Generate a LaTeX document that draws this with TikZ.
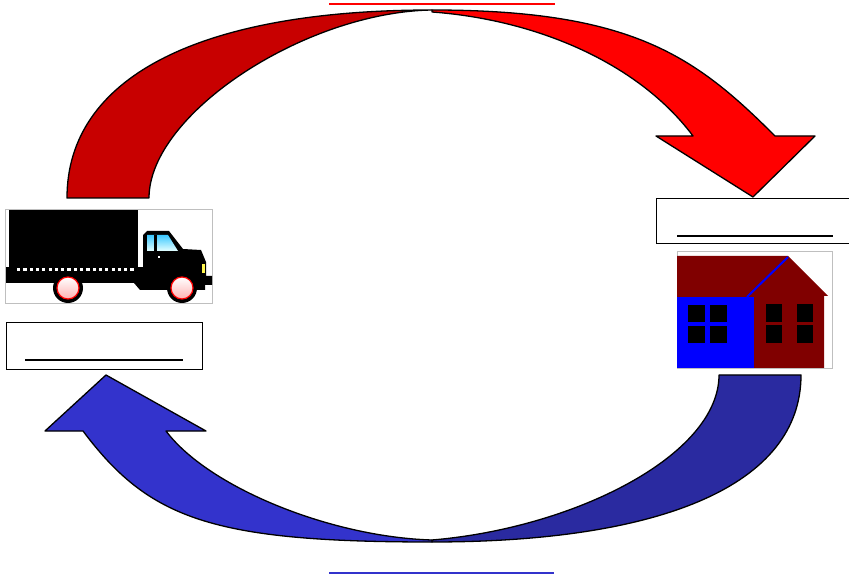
\documentclass[tikz,border=0pt]{standalone}
\usepackage{tikz}
\usetikzlibrary{calc}
\definecolor{DarkArrow}{RGB}{200,0,0}
\definecolor{ArrowBlue}{RGB}{51,51,204}
\definecolor{DeepBlue}{RGB}{42,42,160}
\definecolor{Brick}{RGB}{128,0,0}
\definecolor{Glass}{RGB}{60,200,255}

\begin{document}
\begin{tikzpicture}[x=1pt, y=-1pt,
		outline/.style={draw=black, line width=1.3pt, line join=round},
		labelbox/.style={draw=black, line width=1.2pt, fill=white, inner sep=0pt,
			minimum width=196pt, minimum height=47pt, anchor=north west},
		blank/.style={line width=2.4pt},
		frame/.style={draw=black!25, line width=0.8pt, fill=white}]
		\clip (0,0) rectangle (849,577);
		\fill[white] (0,0) rectangle (849,577);
		% upper arrow
		\draw[outline, fill=DarkArrow] (67,198) .. controls (67,78) and (198,10) .. (432,10)
			.. controls (305,12) and (149,114) .. (149,198) -- cycle;
		\draw[outline, fill=red] (432,10) .. controls (632,10) and (695,56) .. (775,136)
			-- (815,136) -- (753,197) -- (656,136) -- (693,136)
			.. controls (640,65) and (540,20) .. (432,12) -- cycle;
		% lower arrow
		\draw[outline, fill=DeepBlue] (801,375) .. controls (801,485) and (662,542) .. (432,542)
			-- (432,540) .. controls (575,528) and (719,455) .. (719,375) -- cycle;
		\draw[outline, fill=ArrowBlue] (432,542) .. controls (212,542) and (149,519) .. (83,431)
			-- (45,431) -- (106,375) -- (206,431) -- (166,431)
			.. controls (208,487) and (330,537) .. (432,540) -- cycle;
		\draw[red, line width=2pt] (329,4) -- (555,4);
		\draw[ArrowBlue, line width=2.5pt] (329,573) -- (554,573);
		% truck
		\draw[frame] (5,209) rectangle (212,303);
		\fill (9,210) rectangle (138,267);
		\fill (6,267) rectangle (145,272);
		\foreach \i in {0,...,18}
			\fill[white] ({17+\i*6.3},268.3) rectangle ++(3.2,3);
		\fill (6,272) -- (6,283) -- (134,283) -- (140,290) -- (205,290) -- (205,285)
			-- (212,285) -- (212,276) -- (206,276) -- (206,262) -- (201,250) -- (183,249)
			-- (169,231) -- (147,231) -- (143,235) -- (143,272) -- cycle;
		\shade[top color=Glass, bottom color=cyan!10] (147,235) -- (168,235) -- (178,251) -- (147,251) -- cycle;
		\fill (154,235) rectangle (157,251);
		\fill[white] (157.5,256.5) rectangle ++(2,2);
		\fill[yellow!70] (202,264) rectangle (204.5,273);
		\foreach \wx in {68,182} {
			\fill (\wx,288) circle (15pt);
			\shade[top color=white, bottom color=red!30] (\wx,288) circle (11pt);
			\draw[red, line width=1.2pt] (\wx,288) circle (11pt);
		}
		% house
		\draw[frame] (677,251) rectangle (832,368);
		\fill[Brick] (677,256) -- (788,256) -- (828,296) -- (824,296) -- (824,368) -- (677,368) -- cycle;
		\fill[blue] (677,297) rectangle (754,368);
		\draw[blue, line width=2pt] (747,297) -- (788,257);
		\foreach \wx in {688,710}
			\foreach \wy in {305,326}
				\fill (\wx,\wy) rectangle ++(17,17);
		\foreach \wx in {766,797}
			\foreach \wy in {304,325}
				\fill (\wx,\wy) rectangle ++(16,18);
		% label boxes
		\node[labelbox] (truckbox) at (6,322) {};
		\node[labelbox, minimum width=204pt, minimum height=45pt] (housebox) at (656,198) {};
		\draw[blank] ($(truckbox.south west)+(19,-10)$) -- ($(truckbox.south east)+(-20,-10)$);
		\draw[blank] ($(housebox.south west)+(21,-8)$) -- ($(housebox.south west)+(177,-8)$);
	\end{tikzpicture}
\end{document}
